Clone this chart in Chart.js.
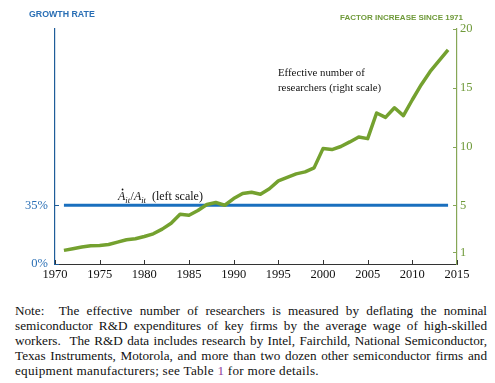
<!DOCTYPE html>
<html>
<head>
<meta charset="utf-8">
<script src="https://cdn.jsdelivr.net/npm/chart.js@4"></script>
<style>
  html, body { margin: 0; padding: 0; background: #fff; }
  #wrap { position: absolute; left: 0; top: 0; width: 495px; height: 290px; }
  .note { position: absolute; left: 15px; width: 472px; font-family: 'Liberation Serif', serif; font-size: 13.2px; line-height: 15px; color: #111; white-space: nowrap; }
  .j { text-align: justify; text-align-last: justify; white-space: normal; }
  .last { letter-spacing: 0.25px; }
  .ref { color: #8e3a9a; }
</style>
</head>
<body>
<div id="wrap"><canvas id="c" width="495" height="290"></canvas></div>
<div class="note j" style="top:303px">Note: &nbsp;The effective number of researchers is measured by deflating the nominal</div>
<div class="note j" style="top:318px">semiconductor R&amp;D expenditures of key firms by the average wage of high-skilled</div>
<div class="note j" style="top:333px">workers. &nbsp;The R&amp;D data includes research by Intel, Fairchild, National Semiconductor,</div>
<div class="note j" style="top:348px">Texas Instruments, Motorola, and more than two dozen other semiconductor firms and</div>
<div class="note last" style="top:363px">equipment manufacturers; see Table <span class="ref">1</span> for more details.</div>
<script>
// ---- data ----
const years = [1971,1972,1973,1974,1975,1976,1977,1978,1979,1980,
               1981,1982,1983,1984,1985,1986,1987,1988,1989,1990,
               1991,1992,1993,1994,1995,1996,1997,1998,1999,2000,
               2001,2002,2003,2004,2005,2006,2007,2008,2009,2010,
               2011,2012,2013,2014];
const researchers = [1.16,1.30,1.44,1.55,1.58,1.66,1.86,2.06,2.15,2.34,
                     2.57,2.97,3.47,4.24,4.15,4.55,5.06,5.23,5.00,5.57,
                     6.00,6.11,5.94,6.40,7.07,7.38,7.67,7.84,8.18,9.82,
                     9.74,10.00,10.39,10.81,10.67,12.85,12.48,13.30,12.63,13.98,
                     15.26,16.39,17.30,18.23];
const growthYears = [1971, 2014];
const growthRate = [35, 35];
const xTicks = [1970,1975,1980,1985,1990,1995,2000,2005,2010,2015];
const leftTicks = [0, 35];
const rightTicks = [1, 5, 10, 15, 20];

const BLUE = '#1a6fbe', BLUE_AX = '#1f5d99', BLUE_TXT = '#2a6fb5';
const GREEN = '#74a12f', GREEN_AX = '#86a757', GREEN_TXT = '#6f9a3a';
const SERIF = "'Liberation Serif', 'Times New Roman', serif";
const SANS = "'Liberation Sans', Arial, sans-serif";

const extras = {
  id: 'extras',
  afterDraw(chart) {
    const ctx = chart.ctx;
    const x = chart.scales.x, yl = chart.scales.y, yr = chart.scales.y1;
    const a = chart.chartArea;
    ctx.save();
    // inward ticks
    ctx.lineWidth = 1;
    ctx.strokeStyle = '#333';
    xTicks.forEach(v => {
      const px = Math.round(x.getPixelForValue(v)) + 0.5;
      ctx.beginPath(); ctx.moveTo(px, a.bottom); ctx.lineTo(px, a.bottom - 4); ctx.stroke();
    });
    ctx.strokeStyle = BLUE_AX;
    leftTicks.forEach(v => {
      const py = Math.round(yl.getPixelForValue(v)) + 0.5;
      ctx.beginPath(); ctx.moveTo(a.left, py); ctx.lineTo(a.left + 4, py); ctx.stroke();
    });
    ctx.strokeStyle = GREEN_AX;
    rightTicks.forEach(v => {
      const py = Math.round(yr.getPixelForValue(v)) + 0.5;
      ctx.beginPath(); ctx.moveTo(a.right, py); ctx.lineTo(a.right - 4, py); ctx.stroke();
    });
    // axis titles
    ctx.textBaseline = 'middle';
    ctx.font = 'bold 8.8px ' + SANS;
    ctx.fillStyle = BLUE_TXT; ctx.textAlign = 'left';
    ctx.fillText('GROWTH RATE', 29, 15);
    ctx.font = 'bold 8px ' + SANS;
    ctx.fillStyle = GREEN_TXT; ctx.textAlign = 'right';
    ctx.fillText('FACTOR INCREASE SINCE 1971', 463, 18);
    // annotation: effective number of researchers
    ctx.fillStyle = '#111'; ctx.textAlign = 'left'; ctx.textBaseline = 'alphabetic';
    ctx.font = '10.8px ' + SERIF;
    ctx.fillText('Effective number of', 278, 76);
    ctx.fillText('researchers (right scale)', 278, 91);
    // annotation: A dot / A (left scale)
    let cx = 118; const by = 200;
    const big = 'italic 12px ' + SERIF, sub = 'italic 8.5px ' + SERIF, reg = '12px ' + SERIF;
    ctx.font = big; ctx.fillText('A', cx, by);
    const aw = ctx.measureText('A').width;
    ctx.beginPath(); ctx.arc(cx + aw * 0.62, by - 10.5, 0.9, 0, Math.PI * 2); ctx.fill();
    cx += aw;
    ctx.font = sub; ctx.fillText('it', cx, by + 2.5); cx += ctx.measureText('it').width + 0.5;
    ctx.font = reg; ctx.fillText('/', cx, by); cx += ctx.measureText('/').width;
    ctx.font = big; ctx.fillText('A', cx, by); cx += ctx.measureText('A').width;
    ctx.font = sub; ctx.fillText('it', cx, by + 2.5); cx += ctx.measureText('it').width;
    ctx.font = reg; ctx.fillText(' (left scale)', cx + 3, by);
    ctx.restore();
  }
};

new Chart(document.getElementById('c'), {
  type: 'line',
  data: {
    datasets: [
      {
        label: 'Effective number of researchers (right scale)',
        data: years.map((yr, i) => ({ x: yr, y: researchers[i] })),
        yAxisID: 'y1', borderColor: GREEN, borderWidth: 3.5,
        pointRadius: 0, tension: 0, fill: false, borderJoinStyle: 'round'
      },
      {
        label: 'Growth rate (left scale)',
        data: growthYears.map((yr, i) => ({ x: yr, y: growthRate[i] })),
        yAxisID: 'y', borderColor: BLUE, borderWidth: 3,
        pointRadius: 0, tension: 0, fill: false
      }
    ]
  },
  options: {
    responsive: false,
    animation: false,
    layout: { padding: { top: 29, left: 0, right: 0, bottom: 0 } },
    plugins: { legend: { display: false }, tooltip: { enabled: false } },
    scales: {
      x: {
        type: 'linear', min: 1970, max: 2015,
        afterBuildTicks: s => { s.ticks = xTicks.map(v => ({ value: v })); },
        afterFit: s => { s.height = 26; },
        grid: { display: false, drawTicks: false },
        border: { display: true, color: '#333', width: 1 },
        ticks: { color: '#111', font: { family: SERIF, size: 12.5 }, padding: 3,
                 maxRotation: 0, autoSkip: false, callback: v => String(v) }
      },
      y: {
        position: 'left', min: 0, max: 140,
        afterBuildTicks: s => { s.ticks = leftTicks.map(v => ({ value: v })); },
        afterFit: s => { s.width = 55; },
        grid: { display: false, drawTicks: false },
        border: { display: true, color: BLUE_AX, width: 1.2 },
        ticks: { color: BLUE_TXT, font: { family: SERIF, size: 12.5 }, padding: 7,
                 callback: v => v + '%' }
      },
      y1: {
        position: 'right', min: 0, max: 20,
        afterBuildTicks: s => { s.ticks = rightTicks.map(v => ({ value: v })); },
        afterFit: s => { s.width = 38; },
        grid: { display: false, drawTicks: false },
        border: { display: true, color: GREEN_AX, width: 1.2 },
        ticks: { color: GREEN_TXT, font: { family: SERIF, size: 12.5 }, padding: 3,
                 callback: v => String(v) }
      }
    }
  },
  plugins: [extras]
});
</script>
</body>
</html>
